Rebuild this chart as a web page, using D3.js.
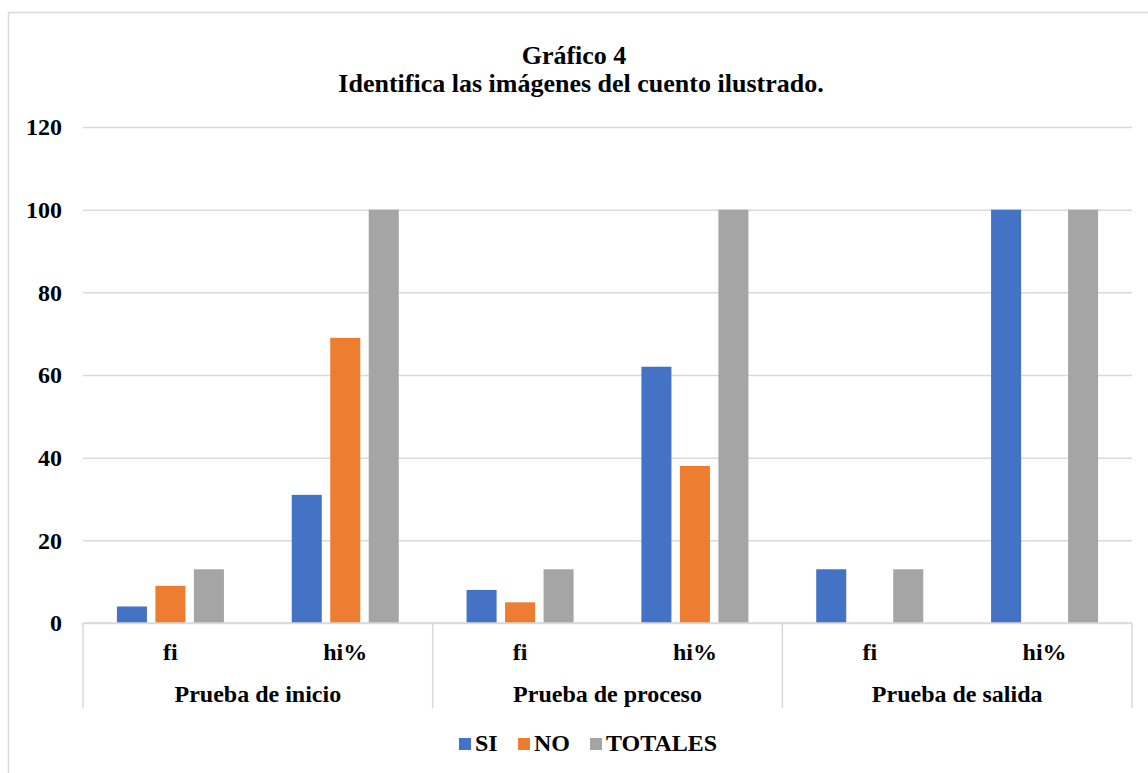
<!DOCTYPE html>
<html>
<head>
<meta charset="utf-8">
<script src="https://cdn.jsdelivr.net/npm/d3@7"></script>
<style>
  body { margin: 0; background: #fff; }
  text { font-family: "Liberation Serif", "Times New Roman", serif; font-weight: bold; fill: #000; }
</style>
</head>
<body>
<div class="card"></div>
<script>
const w = 1148;
const h = 773;

// data
const groups = ["Prueba de inicio", "Prueba de proceso", "Prueba de salida"];
const subCats = ["fi", "hi%"];
const series = ["SI", "NO", "TOTALES"];
const colors = ["#4472C4", "#ED7D31", "#A5A5A5"];
const si =      [4, 31, 8, 62, 13, 100];
const no =      [9, 69, 5, 38, 0, 0];
const totales = [13, 100, 13, 100, 13, 100];
const yTicks = [0, 20, 40, 60, 80, 100, 120];

const plot = {left: 83, right: 1132, top: 127, bottom: 623};
const font = "'Liberation Serif', 'Times New Roman', serif";

var svg = d3.select(".card")
      .append("svg")
      .attr("width", w)
      .attr("height", h)
      .attr("font-family", font);

svg.append("rect")
   .attr("width", w).attr("height", h).attr("fill", "#fff");

// chart frame (runs off the right and bottom edges)
svg.append("rect")
   .attr("x", 8.5).attr("y", 12.5)
   .attr("width", 1200).attr("height", 800)
   .attr("fill", "none")
   .attr("stroke", "#d9d9d9")
   .attr("stroke-width", 1.5);

// title, two lines
svg.append("text")
   .attr("text-anchor", "middle")
   .attr("x", 574).attr("y", 64)
   .style("font-size", "26px")
   .text("Gráfico 4");
svg.append("text")
   .attr("text-anchor", "middle")
   .attr("x", 581).attr("y", 92)
   .style("font-size", "26px")
   .text("Identifica las imágenes del cuento ilustrado.");

var yScale = d3.scaleLinear().domain([0, 120]).range([plot.bottom, plot.top]);

// gridlines + y labels
var yAxis = d3.axisLeft(yScale)
      .tickValues(yTicks)
      .tickSize(-(plot.right - plot.left))
      .tickPadding(21);
var gy = svg.append("g")
   .attr("transform", "translate(" + plot.left + ",0)")
   .call(yAxis)
   .attr("font-family", font);
gy.select(".domain").remove();
gy.selectAll(".tick line").attr("stroke", "#d9d9d9").attr("stroke-width", 1.5);
gy.selectAll(".tick text")
  .style("font-size", "24px")
  .attr("dy", "0.33em");

// x scales: 6 leaf categories inside 3 groups
var leaves = [];
groups.forEach(g => subCats.forEach(s => leaves.push(g + "|" + s)));

var x0 = d3.scaleBand().domain(groups).range([plot.left, plot.right]);
var x = d3.scaleBand().domain(leaves).range([plot.left, plot.right]);
var x1 = d3.scaleBand().domain(series)
      .range([0, 115.5])
      .paddingInner(0.22)
      .paddingOuter(0.11);

var values = [si, no, totales];
var bars = [];
series.forEach((s, k) => {
  leaves.forEach((l, i) => {
    bars.push({series: s, leaf: l, value: values[k][i], color: colors[k]});
  });
});

svg.selectAll(".bar")
   .data(bars.filter(d => d.value > 0))
   .enter().append("rect")
   .attr("class", "bar")
   .attr("x", d => x(d.leaf) + x.bandwidth() / 2 - 57.75 + x1(d.series))
   .attr("y", d => yScale(d.value))
   .attr("width", x1.bandwidth())
   .attr("height", d => yScale(0) - yScale(d.value))
   .attr("fill", d => d.color);

// x axis line
svg.append("line")
   .attr("x1", plot.left).attr("x2", plot.right)
   .attr("y1", plot.bottom).attr("y2", plot.bottom)
   .attr("stroke", "#d9d9d9").attr("stroke-width", 1.5);

// group separators
var seps = groups.map(g => x0(g)).concat([plot.right]);
svg.selectAll(".sep")
   .data(seps)
   .enter().append("line")
   .attr("class", "sep")
   .attr("x1", d => d).attr("x2", d => d)
   .attr("y1", plot.bottom).attr("y2", 708)
   .attr("stroke", "#d9d9d9").attr("stroke-width", 1.5);

// leaf labels
svg.selectAll(".leaf")
   .data(leaves)
   .enter().append("text")
   .attr("class", "leaf")
   .attr("text-anchor", "middle")
   .attr("x", d => x(d) + x.bandwidth() / 2)
   .attr("y", 660)
   .style("font-size", "24px")
   .text(d => d.split("|")[1]);

// group labels
svg.selectAll(".grp")
   .data(groups)
   .enter().append("text")
   .attr("class", "grp")
   .attr("text-anchor", "middle")
   .attr("x", d => x0(d) + x0.bandwidth() / 2)
   .attr("y", 702)
   .style("font-size", "24px")
   .text(d => d);

// legend
var legendX = [459, 518, 590];
var lg = svg.selectAll(".lg")
   .data(series)
   .enter().append("g")
   .attr("class", "lg")
   .attr("transform", (d, i) => "translate(" + legendX[i] + ",738)");
lg.append("rect")
  .attr("width", 12).attr("height", 12)
  .attr("fill", (d, i) => colors[i]);
lg.append("text")
  .attr("x", 16).attr("y", 13)
  .style("font-size", "24px")
  .text(d => d);
</script>
</body>
</html>
